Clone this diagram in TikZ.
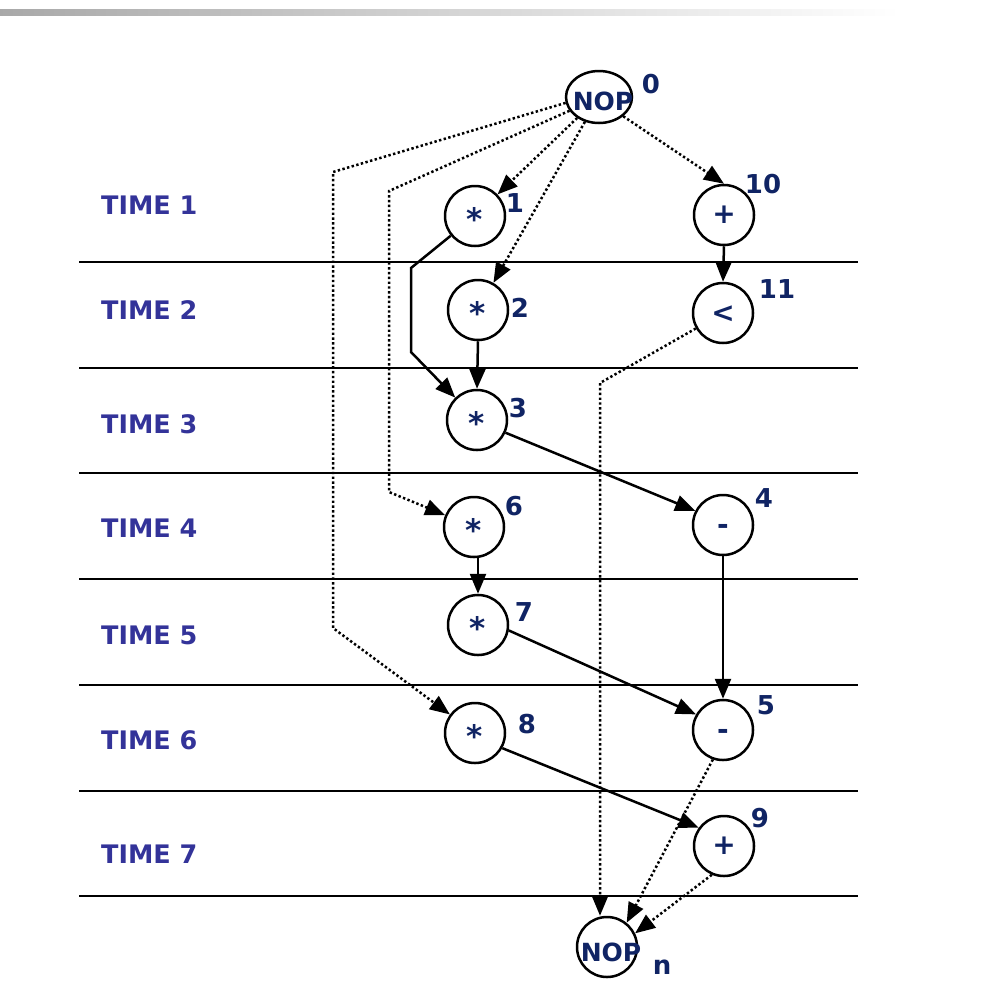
\documentclass[tikz,border=0pt]{standalone}
\usepackage{fontspec}
\setmainfont{DejaVu Sans}[BoldFont={DejaVu Sans Bold}]
\usetikzlibrary{arrows.meta,shapes.geometric}
\definecolor{timeblue}{RGB}{51,51,153}
\definecolor{navy}{RGB}{16,36,100}
\newcommand\opsym[2]{\smash{\raisebox{#1}{#2}}}
\begin{document}
\begin{tikzpicture}[x=1pt,y=-1pt,
  op/.style={circle, draw, line width=2.5pt, minimum size=60pt, inner sep=0pt, text=navy, font=\bfseries\fontsize{28}{28}\selectfont},
  nopshape/.style={ellipse, draw, line width=2.5pt, minimum width=66pt, minimum height=52pt, inner sep=0pt},
  nop/.style={circle, draw, line width=2.5pt, minimum size=60pt, inner sep=0pt},
  noptext/.style={text=navy, inner sep=0pt, font=\bfseries\fontsize{25}{25}\selectfont},
  num/.style={text=navy, inner sep=0pt, font=\bfseries\fontsize{26}{26}\selectfont},
  tlabel/.style={text=timeblue, anchor=west, inner sep=0pt, font=\bfseries\fontsize{25.5}{26}\selectfont},
  edge/.style={line width=2.5pt, -{Triangle[length=20pt,width=16pt]}},
  dep/.style={edge, dash pattern=on 2.4pt off 2.4pt},
  rule/.style={line width=2.5pt}]
\path[use as bounding box] (0,0) rectangle (992,986);
\shade[left color=black!34, right color=white] (0,9) rectangle (900,15);

% time rules
\foreach \yy in {262,368,473,579,685,791,896} \draw[rule] (79,\yy) -- (858,\yy);

% time labels
\node[tlabel] (tl1) at (101,205) {TIME 1};
\node[tlabel] (tl2) at (101,310) {TIME 2};
\node[tlabel] (tl3) at (101,424) {TIME 3};
\node[tlabel] (tl4) at (101,528) {TIME 4};
\node[tlabel] (tl5) at (101,635) {TIME 5};
\node[tlabel] (tl6) at (101,740) {TIME 6};
\node[tlabel] (tl7) at (101,854) {TIME 7};

% nodes
\node[nopshape] (n0) at (599,97) {};
\node[noptext] (t0) at (603,101) {NOP};
\node[op] (n1) at (475,216) {\opsym{-0.52em}{\fontsize{31}{31}\selectfont *}};
\node[op] (n2) at (478,310) {\opsym{-0.52em}{\fontsize{31}{31}\selectfont *}};
\node[op] (n3) at (477,420) {\opsym{-0.52em}{\fontsize{31}{31}\selectfont *}};
\node[op] (n10) at (724,215) {\opsym{-0.32em}{+}};
\node[op] (n11) at (723,313) {\opsym{-0.34em}{<}};
\node[op] (n6) at (474,527) {\opsym{-0.52em}{\fontsize{31}{31}\selectfont *}};
\node[op] (n7) at (478,625) {\opsym{-0.52em}{\fontsize{31}{31}\selectfont *}};
\node[op] (n8) at (475,733) {\opsym{-0.52em}{\fontsize{31}{31}\selectfont *}};
\node[op] (n4) at (723,525) {\opsym{-0.33em}{-}};
\node[op] (n5) at (723,730) {\opsym{-0.33em}{-}};
\node[op] (n9) at (724,846) {\opsym{-0.32em}{+}};
\node[nop] (nn) at (607,947) {};
\node[noptext] (tn) at (611,952) {NOP};

% numbers
\node[num] (l0) at (651,84) {0};
\node[num] (l1) at (515,203) {1};
\node[num] (l2) at (520,308) {2};
\node[num] (l3) at (518,408) {3};
\node[num] (l10) at (763,184) {10};
\node[num] (l11) at (777,289) {11};
\node[num] (l6) at (514,506) {6};
\node[num] (l7) at (524,612) {7};
\node[num] (l8) at (527,724) {8};
\node[num] (l4) at (764,498) {4};
\node[num] (l5) at (766,705) {5};
\node[num] (l9) at (760,818) {9};
\node[num] (ln) at (662,967) {n};

% bend points
\coordinate (c8a) at (333,172);
\coordinate (c8b) at (333,628);
\coordinate (c6a) at (389,191);
\coordinate (c6b) at (389,492);
\coordinate (c13a) at (411,268);
\coordinate (c13b) at (411,352);
\coordinate (c11a) at (600,383);

% dependencies
\draw[dep] (n0) -- (n1);
\draw[dep] (n0) -- (n2);
\draw[dep] (n0.south east) -- (n10.north);
\draw[dep] (n0.190) -- (c8a) -- (c8b) -- (n8);
\draw[dep] (n0.205) -- (c6a) -- (c6b) -- (n6);
\draw[edge] (n1) -- (c13a) -- (c13b) -- (n3);
\draw[edge] (n2.south) -- (n3.north);
\draw[edge] (n3.-24) -- (n4.153);
\draw[edge] (n10.south) -- (n11.north);
\draw[dep] (n11) -- (c11a) -- (c11a |- nn.north);
\draw[edge] (n4.south) -- (n5.north);
\draw[edge] (n6.south -| n7) -- (n7.north);
\draw[edge] (n7.-10) -- (n5.150);
\draw[edge] (n8.-29) -- (n9.144);
\draw[dep] (n5.251) -- (nn.51);
\draw[dep] (n9.247) -- (nn.26);
\end{tikzpicture}
\end{document}
